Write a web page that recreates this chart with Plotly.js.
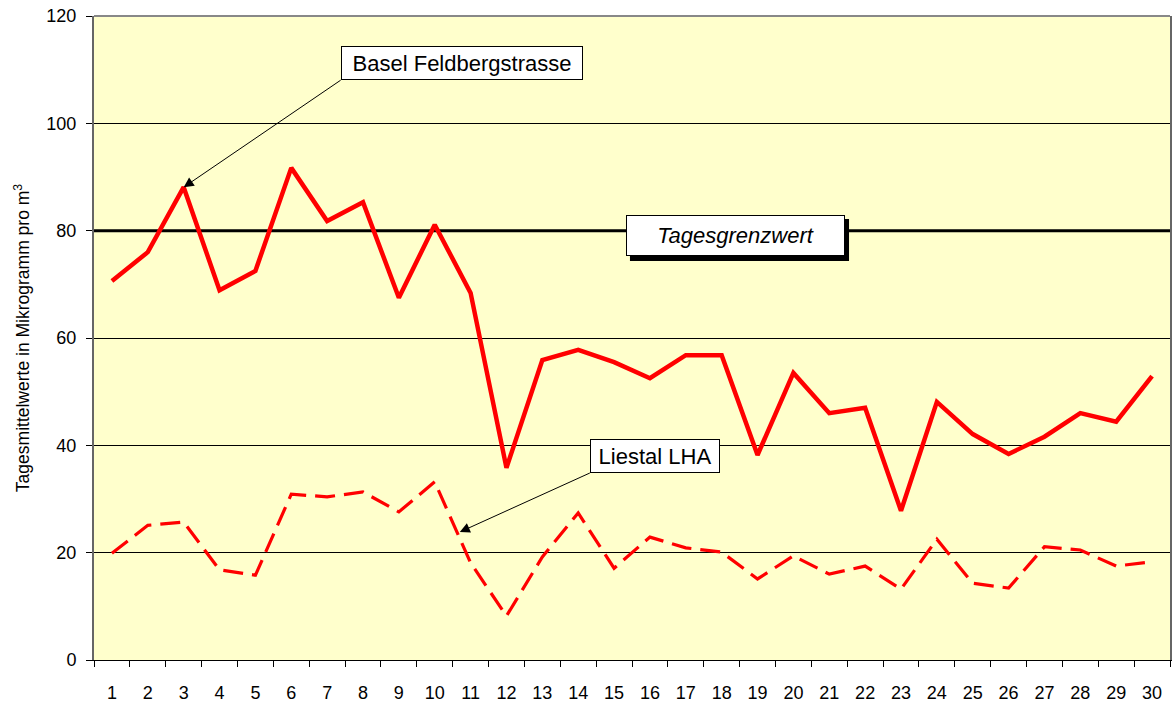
<!DOCTYPE html>
<html>
<head>
<meta charset="utf-8">
<script src="https://cdn.plot.ly/plotly-3.0.1.min.js"></script>
<style>html,body{margin:0;padding:0;background:#fff;}#chart{width:1175px;height:707px;}</style>
</head>
<body>
<div id="chart"></div>
<script>
// Days of month (category axis)
const tage = ['1','2','3','4','5','6','7','8','9','10','11','12','13','14','15','16','17','18','19','20','21','22','23','24','25','26','27','28','29','30'];
// Tagesmittelwerte Basel Feldbergstrasse
const basel = [70.6, 76.0, 88.1, 68.9, 72.5, 91.7, 81.8, 85.3, 67.5, 81.1, 68.4, 35.8, 55.9, 57.8, 55.5, 52.5, 56.8, 56.8, 38.2, 53.5, 46.0, 47.0, 27.8, 48.1, 42.1, 38.4, 41.6, 46.0, 44.4, 52.9];
// Tagesmittelwerte Liestal LHA
const liestal = [19.9, 25.1, 25.7, 16.8, 15.8, 30.9, 30.4, 31.3, 27.6, 33.2, 18.1, 8.2, 19.2, 27.4, 17.1, 22.9, 20.9, 20.1, 15.1, 19.4, 16.0, 17.5, 13.2, 22.5, 14.3, 13.4, 21.1, 20.5, 17.5, 18.3];
// Tagesgrenzwert
const grenzwert = 80;
const yTicks = [0, 20, 40, 60, 80, 100, 120];

const FONT = 'Arial, "Liberation Sans", sans-serif';

const traces = [
  {x: tage, y: basel, type: 'scatter', mode: 'lines', name: 'Basel Feldbergstrasse',
   line: {color: '#FF0000', width: 4.5}},
  {x: tage, y: liestal, type: 'scatter', mode: 'lines', name: 'Liestal LHA',
   line: {color: '#FF0000', width: 3.2, dash: '20px,9px'}}
];

const layout = {
  width: 1175, height: 707,
  margin: {l: 94, r: 5, t: 16, b: 47},
  paper_bgcolor: '#FFFFFF',
  plot_bgcolor: '#FFFFCC',
  showlegend: false,
  font: {family: FONT, color: '#000', size: 18},
  xaxis: {
    type: 'category',
    range: [-0.5, 29.5],
    tickson: 'boundaries',
    ticks: 'outside', ticklen: 6, tickcolor: '#000', tickwidth: 1,
    ticklabelstandoff: 16,
    showgrid: false, zeroline: false,
    showline: true, linecolor: '#000', linewidth: 1,
    tickfont: {family: FONT, size: 18, color: '#000'}
  },
  yaxis: {
    range: [0, 120],
    tickvals: yTicks,
    ticks: 'outside', ticklen: 6, tickcolor: '#000', tickwidth: 1,
    ticklabelstandoff: 6,
    showgrid: true, gridcolor: '#000', gridwidth: 1,
    zeroline: false,
    showline: true, linecolor: '#666', linewidth: 2, mirror: true,
    tickfont: {family: FONT, size: 18, color: '#000'},
    title: {text: 'Tagesmittelwerte in Mikrogramm pro m<sup>3</sup>', font: {family: FONT, size: 17.5, color: '#000'}, standoff: 12}
  },
  shapes: [
    {type: 'line', xref: 'paper', x0: 0, x1: 1, yref: 'y', y0: grenzwert, y1: grenzwert,
     line: {color: '#000', width: 3}, layer: 'below'},
    {type: 'line', xref: 'paper', x0: 0, x1: 1, yref: 'paper', y0: 1, y1: 1,
     line: {color: '#888', width: 2}},
    // drop shadow of the Tagesgrenzwert label box
    {type: 'rect', xref: 'paper', yref: 'paper', x0: 0.4981, x1: 0.7017, y0: 0.6196, y1: 0.6848,
     fillcolor: '#000', line: {width: 0}, layer: 'above'}
  ],
  annotations: [
    {x: 2, y: basel[2], xref: 'x', yref: 'y', showarrow: true,
     ax: 157, ay: -107, arrowhead: 2, arrowsize: 2, arrowwidth: 1, arrowcolor: '#000',
     xanchor: 'left', yanchor: 'bottom',
     text: 'Basel Feldbergstrasse', width: 240, height: 32,
     bgcolor: '#FFFFFF', bordercolor: '#000', borderwidth: 1, borderpad: 0,
     font: {family: FONT, size: 22, color: '#000'}},
    {x: 9.7, y: 23.85, xref: 'x', yref: 'y', showarrow: true,
     ax: 130, ay: -59, arrowhead: 2, arrowsize: 2, arrowwidth: 1, arrowcolor: '#000',
     xanchor: 'left', yanchor: 'bottom',
     text: 'Liestal LHA', width: 128, height: 32,
     bgcolor: '#FFFFFF', bordercolor: '#000', borderwidth: 1, borderpad: 0,
     font: {family: FONT, size: 22, color: '#000'}},
    {xref: 'paper', yref: 'paper', x: 0.5962, y: 0.6584, xanchor: 'center', yanchor: 'middle',
     text: '<i>Tagesgrenzwert</i>', showarrow: false, width: 217, height: 39,
     bgcolor: '#FFFFFF', bordercolor: '#000', borderwidth: 1, borderpad: 0,
     font: {family: FONT, size: 22, color: '#000'}}
  ]
};

Plotly.newPlot('chart', traces, layout, {displayModeBar: false, staticPlot: true});
</script>
</body>
</html>
